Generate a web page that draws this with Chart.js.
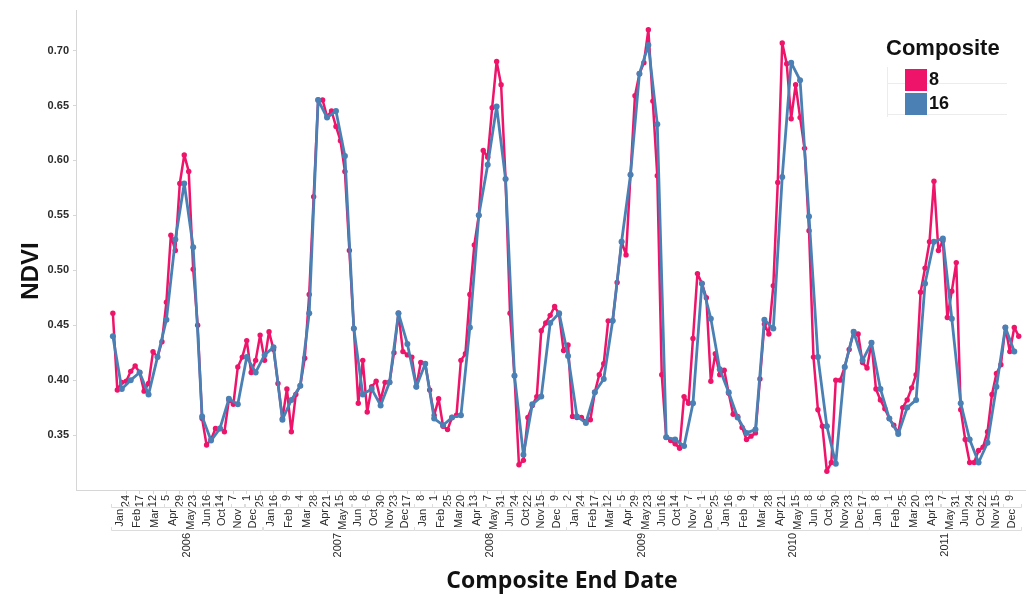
<!DOCTYPE html>
<html>
<head>
<meta charset="utf-8">
<script src="https://cdn.jsdelivr.net/npm/chart.js@4.4.1/dist/chart.umd.min.js"></script>
<style>
  html, body { margin: 0; padding: 0; background: #fff; }
  #wrap { width: 1029px; height: 598px; position: relative; }
</style>
</head>
<body>
<div id="wrap"><canvas id="ndvi-chart"></canvas></div>
<script>
const years = ['2006', '2007', '2008', '2009', '2010', '2011'];
// composite end dates present in every year (no Jul-Sep composites)
const compositeDates = ['Jan 2', 'Jan 8', 'Jan 16', 'Jan 24', 'Feb 1', 'Feb 9', 'Feb 17', 'Feb 25',
    'Mar 4', 'Mar 12', 'Mar 20', 'Mar 28', 'Apr 5', 'Apr 13', 'Apr 21', 'Apr 29',
    'May 7', 'May 15', 'May 23', 'May 31', 'Jun 8', 'Jun 16', 'Jun 24',
    'Oct 6', 'Oct 14', 'Oct 22', 'Oct 30', 'Nov 7', 'Nov 15', 'Nov 23',
    'Dec 1', 'Dec 9', 'Dec 17', 'Dec 25'];
const yTicks = [0.35, 0.40, 0.45, 0.50, 0.55, 0.60, 0.65, 0.70];
const seriesNames = ['8', '16'];

// 8-day composite NDVI, one value per date
const ndvi8_2006 = [0.461, 0.391, 0.398, 0.399, 0.408, 0.413, 0.407, 0.390, 0.397, 0.426, 0.421, 0.435, 0.471, 0.532, 0.518, 0.579, 0.605, 0.590, 0.501, 0.450, 0.365, 0.341, 0.346, 0.356, 0.356, 0.353, 0.382, 0.378, 0.412, 0.421, 0.436, 0.407, 0.418, 0.441];
const ndvi8_2007 = [0.418, 0.444, 0.428, 0.397, 0.365, 0.392, 0.353, 0.387, 0.395, 0.420, 0.478, 0.567, 0.655, 0.655, 0.640, 0.645, 0.631, 0.618, 0.590, 0.518, 0.447, 0.379, 0.418, 0.371, 0.394, 0.399, 0.382, 0.398, 0.398, 0.425, 0.461, 0.426, 0.423, 0.421];
const ndvi8_2008 = [0.394, 0.416, 0.415, 0.391, 0.368, 0.383, 0.358, 0.355, 0.366, 0.368, 0.418, 0.424, 0.478, 0.523, 0.550, 0.609, 0.603, 0.648, 0.690, 0.669, 0.583, 0.461, 0.404, 0.323, 0.327, 0.366, 0.377, 0.385, 0.445, 0.452, 0.459, 0.467, 0.460, 0.427];
const ndvi8_2009 = [0.432, 0.367, 0.366, 0.366, 0.362, 0.364, 0.389, 0.405, 0.415, 0.454, 0.454, 0.489, 0.526, 0.514, 0.587, 0.659, 0.679, 0.689, 0.719, 0.654, 0.586, 0.405, 0.348, 0.345, 0.342, 0.338, 0.385, 0.379, 0.438, 0.497, 0.488, 0.475, 0.399, 0.424];
const ndvi8_2010 = [0.405, 0.409, 0.388, 0.369, 0.367, 0.357, 0.346, 0.349, 0.352, 0.401, 0.451, 0.442, 0.486, 0.580, 0.707, 0.688, 0.638, 0.669, 0.639, 0.611, 0.536, 0.421, 0.373, 0.358, 0.317, 0.325, 0.400, 0.400, 0.412, 0.428, 0.444, 0.442, 0.416, 0.411];
const ndvi8_2011 = [0.434, 0.392, 0.382, 0.374, 0.365, 0.359, 0.352, 0.375, 0.382, 0.393, 0.405, 0.480, 0.502, 0.526, 0.581, 0.518, 0.527, 0.457, 0.481, 0.507, 0.373, 0.346, 0.325, 0.325, 0.336, 0.339, 0.353, 0.387, 0.406, 0.414, 0.448, 0.426, 0.448, 0.440];

// 16-day composite NDVI, every second date (Jan 2, Jan 16, Feb 1, ...)
const ndvi16_2006 = [0.440, 0.392, 0.400, 0.407, 0.387, 0.421, 0.455, 0.528, 0.579, 0.521, 0.367, 0.345, 0.356, 0.383, 0.378, 0.421, 0.407];
const ndvi16_2007 = [0.423, 0.430, 0.364, 0.382, 0.395, 0.461, 0.655, 0.639, 0.645, 0.604, 0.447, 0.387, 0.392, 0.377, 0.398, 0.461, 0.433];
const ndvi16_2008 = [0.394, 0.415, 0.365, 0.359, 0.366, 0.368, 0.448, 0.550, 0.596, 0.649, 0.583, 0.404, 0.332, 0.378, 0.385, 0.452, 0.461];
const ndvi16_2009 = [0.422, 0.367, 0.361, 0.389, 0.401, 0.454, 0.526, 0.587, 0.679, 0.705, 0.633, 0.348, 0.346, 0.340, 0.379, 0.488, 0.456];
const ndvi16_2010 = [0.410, 0.389, 0.366, 0.352, 0.355, 0.455, 0.447, 0.585, 0.689, 0.673, 0.549, 0.421, 0.358, 0.324, 0.412, 0.444, 0.418];
const ndvi16_2011 = [0.434, 0.392, 0.365, 0.351, 0.375, 0.382, 0.488, 0.526, 0.529, 0.456, 0.379, 0.346, 0.325, 0.343, 0.394, 0.448, 0.426];

const PINK = '#ee1469';
const BLUE = '#4a80b3';
const AXIS_GREY = '#d6d6d6';
const TEXT = '#2b2b2b';

// flat list of categories: year / month / day
const categories = [];
years.forEach(y => compositeDates.forEach(d => {
    const [m, day] = d.split(' ');
    categories.push({ year: y, month: m, day: day });
}));

const ndvi8 = [].concat(ndvi8_2006, ndvi8_2007, ndvi8_2008, ndvi8_2009, ndvi8_2010, ndvi8_2011);
const ndvi16 = [].concat(ndvi16_2006, ndvi16_2007, ndvi16_2008, ndvi16_2009, ndvi16_2010, ndvi16_2011);

// day labels every third date
const dayTickIdx = categories.map((c, i) => i).filter(i => i > 0 && i % 3 === 0);

function groupsBy(keyFn) {
    const out = [];
    categories.forEach((c, i) => {
        const k = keyFn(c);
        const last = out[out.length - 1];
        if (last && last.key === k) last.end = i;
        else out.push({ key: k, start: i, end: i, c: c });
    });
    return out;
}

const dateAxisLabels = {
    id: 'dateAxisLabels',
    afterDraw(chart) {
        const ctx = chart.ctx;
        const xs = chart.scales.x;
        const bottom = chart.chartArea.bottom;

        ctx.save();
        ctx.fillStyle = TEXT;
        ctx.strokeStyle = '#dcdcdc';
        ctx.lineWidth = 1;
        ctx.font = '11px "Liberation Sans", Arial, sans-serif';
        ctx.textAlign = 'right';
        ctx.textBaseline = 'middle';

        // month row
        groupsBy(c => c.year + '-' + c.month).forEach(g => {
            const a = xs.getPixelForValue(g.start), b = xs.getPixelForValue(g.end);
            ctx.beginPath();
            ctx.moveTo(Math.round(a - 2) + 0.5, bottom + 14);
            ctx.lineTo(Math.round(a - 2) + 0.5, bottom + 17.5);
            ctx.lineTo(Math.round(b + 2) + 0.5, bottom + 17.5);
            ctx.lineTo(Math.round(b + 2) + 0.5, bottom + 14);
            ctx.stroke();
            ctx.save();
            ctx.translate((a + b) / 2, bottom + 19);
            ctx.rotate(-Math.PI / 2);
            ctx.fillText(g.c.month, 0, 0);
            ctx.restore();
        });

        // year row
        groupsBy(c => c.year).forEach(g => {
            const a = xs.getPixelForValue(g.start), b = xs.getPixelForValue(g.end);
            ctx.beginPath();
            ctx.moveTo(Math.round(a - 2) + 0.5, bottom + 37);
            ctx.lineTo(Math.round(a - 2) + 0.5, bottom + 40.5);
            ctx.lineTo(Math.round(b + 2) + 0.5, bottom + 40.5);
            ctx.lineTo(Math.round(b + 2) + 0.5, bottom + 37);
            ctx.stroke();
            ctx.save();
            ctx.translate((a + b) / 2, bottom + 43);
            ctx.rotate(-Math.PI / 2);
            ctx.fillText(g.c.year, 0, 0);
            ctx.restore();
        });

        // axis titles
        ctx.fillStyle = '#111';
        ctx.textAlign = 'center';
        ctx.font = 'bold 23px "Open Sans", sans-serif';
        ctx.fillText('Composite End Date', 562, 581);

        ctx.save();
        ctx.translate(31, 271);
        ctx.rotate(-Math.PI / 2);
        ctx.font = 'bold 24px "Liberation Sans", Arial, sans-serif';
        ctx.fillText('NDVI', 0, 0);
        ctx.restore();

        // legend
        ctx.strokeStyle = '#ececec';
        ctx.beginPath();
        ctx.moveTo(887.5, 67); ctx.lineTo(887.5, 117);
        ctx.moveTo(887, 83.5); ctx.lineTo(1007, 83.5);
        ctx.moveTo(887, 114.5); ctx.lineTo(1007, 114.5);
        ctx.stroke();

        ctx.textAlign = 'left';
        ctx.font = 'bold 22px "Liberation Sans", Arial, sans-serif';
        ctx.fillText('Composite', 886, 49);
        const colors = [PINK, BLUE];
        seriesNames.forEach((name, k) => {
            ctx.fillStyle = colors[k];
            ctx.fillRect(905, 69 + k * 24, 22, 22);
            ctx.fillStyle = '#111';
            ctx.font = 'bold 18px "Liberation Sans", Arial, sans-serif';
            ctx.fillText(name, 929, 80 + k * 24);
        });
        ctx.restore();
    }
};

const ctx = document.getElementById('ndvi-chart').getContext('2d');

new Chart(ctx, {
    type: 'line',
    data: {
        datasets: [
            {
                label: seriesNames[0],
                data: ndvi8.map((v, i) => ({ x: i, y: v })),
                borderColor: PINK,
                backgroundColor: PINK,
                borderWidth: 2.5,
                borderJoinStyle: 'round',
                borderCapStyle: 'round',
                pointRadius: 2.7,
                pointBorderWidth: 0,
                tension: 0,
                order: 2
            },
            {
                label: seriesNames[1],
                data: ndvi16.map((v, j) => ({ x: 2 * j, y: v })),
                borderColor: BLUE,
                backgroundColor: BLUE,
                borderWidth: 2.8,
                borderJoinStyle: 'round',
                borderCapStyle: 'round',
                pointRadius: 3,
                pointBorderWidth: 0,
                tension: 0,
                order: 1
            }
        ]
    },
    options: {
        responsive: true,
        maintainAspectRatio: false,
        animation: false,
        layout: { padding: { top: 10, right: 0, left: 0, bottom: 0 } },
        plugins: {
            legend: { display: false },
            tooltip: { enabled: false }
        },
        scales: {
            x: {
                type: 'linear',
                min: -8.26,
                max: 204.4,
                afterBuildTicks: s => { s.ticks = dayTickIdx.map(v => ({ value: v })); },
                afterFit: s => { s.height = 108; },
                ticks: {
                    autoSkip: false,
                    minRotation: 90,
                    maxRotation: 90,
                    padding: 1,
                    color: TEXT,
                    font: { family: '"Liberation Sans", Arial, sans-serif', size: 11 },
                    callback: v => categories[v] ? categories[v].day : ''
                },
                grid: { drawOnChartArea: false, tickLength: 4, color: AXIS_GREY },
                border: { color: AXIS_GREY }
            },
            y: {
                min: 0.30,
                max: 0.7364,
                afterBuildTicks: s => { s.ticks = yTicks.map(v => ({ value: v })); },
                afterFit: s => { s.width = 76; },
                ticks: {
                    padding: 4,
                    color: TEXT,
                    font: { family: '"Liberation Sans", Arial, sans-serif', size: 11, weight: 'bold' },
                    callback: v => v.toFixed(2)
                },
                grid: { drawOnChartArea: false, tickLength: 3, color: AXIS_GREY },
                border: { color: AXIS_GREY }
            }
        }
    },
    plugins: [dateAxisLabels]
});
</script>
</body>
</html>
